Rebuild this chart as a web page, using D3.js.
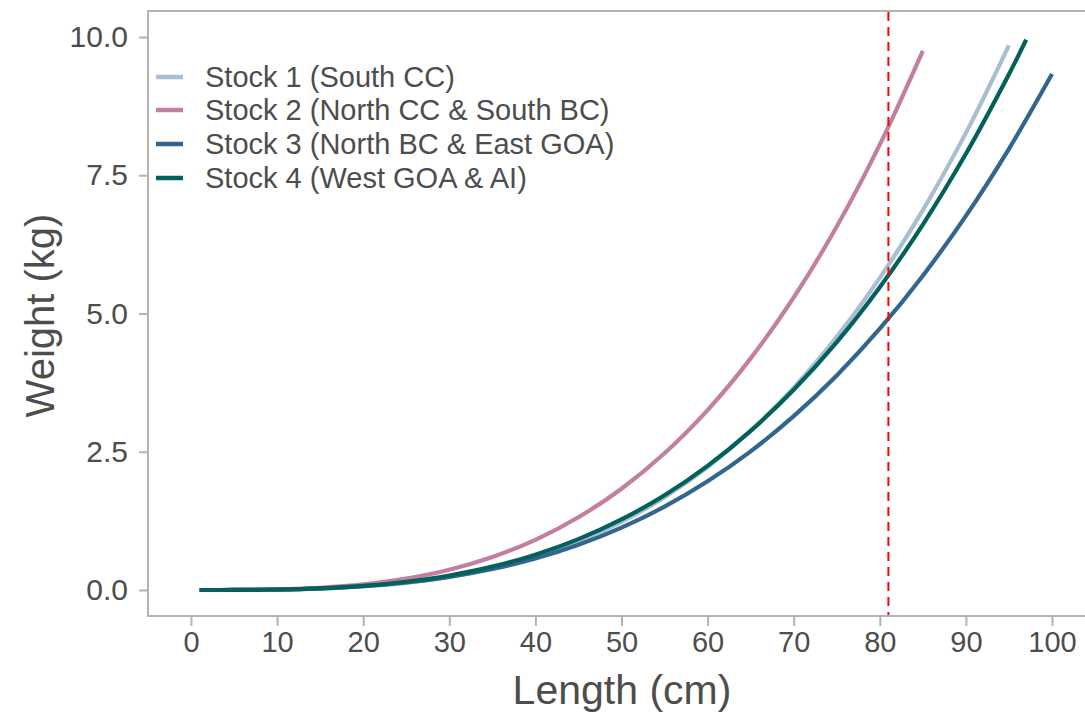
<!DOCTYPE html>
<html>
<head>
<meta charset="utf-8">
<script src="https://cdn.jsdelivr.net/npm/d3@7"></script>
<style>
  html, body { margin: 0; padding: 0; background: #ffffff; }
  svg { display: block; font-family: "Liberation Sans", Arial, sans-serif; }
</style>
</head>
<body>
<svg id="chart" width="1085" height="721"></svg>
<script>
// Length-weight curves for four stocks (length in cm, weight in kg)
const stockNames = [
  "Stock 1 (South CC)",
  "Stock 2 (North CC & South BC)",
  "Stock 3 (North BC & East GOA)",
  "Stock 4 (West GOA & AI)"
];
const stockColors = ["#a9bed2", "#c27f9f", "#33668f", "#04605a"];

const len1 = [1, 5, 10, 15, 20, 25, 30, 35, 40, 45, 50, 55, 60, 65, 70, 75, 80, 85, 90, 95];
const wt1  = [0, 0.001, 0.007, 0.025, 0.063, 0.130, 0.235, 0.388, 0.597, 0.875, 1.231, 1.677, 2.222, 2.880, 3.661, 4.579, 5.644, 6.870, 8.266, 9.85];

const len2 = [1, 5, 10, 15, 20, 25, 30, 35, 40, 45, 50, 55, 60, 65, 70, 75, 80, 85];
const wt2  = [0, 0.001, 0.012, 0.041, 0.102, 0.206, 0.366, 0.596, 0.907, 1.315, 1.832, 2.473, 3.253, 4.188, 5.289, 6.573, 8.053, 9.75];

const len3 = [1, 5, 10, 15, 20, 25, 30, 35, 40, 45, 50, 55, 60, 65, 70, 75, 80, 85, 90, 95, 100];
const wt3  = [0, 0.001, 0.008, 0.029, 0.069, 0.136, 0.237, 0.380, 0.570, 0.817, 1.127, 1.507, 1.965, 2.507, 3.143, 3.880, 4.725, 5.684, 6.765, 7.978, 9.33];

const len4 = [1, 5, 10, 15, 20, 25, 30, 35, 40, 45, 50, 55, 60, 65, 70, 75, 80, 85, 90, 95, 97];
const wt4  = [0, 0.001, 0.009, 0.031, 0.075, 0.149, 0.262, 0.422, 0.639, 0.920, 1.276, 1.713, 2.245, 2.877, 3.620, 4.483, 5.476, 6.609, 7.888, 9.328, 9.95];

const xTicks = [0, 10, 20, 30, 40, 50, 60, 70, 80, 90, 100];
const yTicks = [0, 2.5, 5, 7.5, 10];
const refLength = 81;

const series = [
  { name: stockNames[0], color: stockColors[0], len: len1, wt: wt1 },
  { name: stockNames[1], color: stockColors[1], len: len2, wt: wt2 },
  { name: stockNames[2], color: stockColors[2], len: len3, wt: wt3 },
  { name: stockNames[3], color: stockColors[3], len: len4, wt: wt4 }
];

const svg = d3.select("#chart");
const panel = { left: 148, top: 11, bottom: 616, right: 1090 };
const textColor = "#4d4d4d";
const frameColor = "#b3b3b3";

const x = d3.scaleLinear().domain([0, 100]).range([191, 1052]);
const y = d3.scaleLinear().domain([0, 10]).range([590, 37]);

// panel frame (left, top, bottom edges)
svg.append("path")
  .attr("d", `M${panel.right},${panel.top}H${panel.left}V${panel.bottom}H${panel.right}`)
  .attr("fill", "none")
  .attr("stroke", frameColor)
  .attr("stroke-width", 2);

// y axis
const yAxis = svg.append("g")
  .attr("transform", `translate(${panel.left - 1},0)`)
  .call(d3.axisLeft(y).tickValues(yTicks).tickFormat(d3.format(".1f")).tickSize(8).tickPadding(11));
yAxis.select(".domain").remove();
yAxis.selectAll(".tick line").attr("stroke", frameColor).attr("stroke-width", 2);
yAxis.selectAll(".tick text")
  .attr("fill", textColor)
  .style("font-size", "30px")
  .style("font-family", "'Liberation Sans', Arial, sans-serif");

// x axis
const xAxis = svg.append("g")
  .attr("transform", `translate(0,${panel.bottom + 1})`)
  .call(d3.axisBottom(x).tickValues(xTicks).tickFormat(d3.format("d")).tickSize(9).tickPadding(5));
xAxis.select(".domain").remove();
xAxis.selectAll(".tick line").attr("stroke", frameColor).attr("stroke-width", 2);
xAxis.selectAll(".tick text")
  .attr("fill", textColor)
  .style("font-size", "29px")
  .style("font-family", "'Liberation Sans', Arial, sans-serif");

// axis titles
svg.append("text")
  .attr("x", 622).attr("y", 704)
  .attr("text-anchor", "middle")
  .attr("fill", textColor)
  .style("font-size", "41px")
  .text("Length (cm)");

svg.append("text")
  .attr("transform", `translate(54,${(panel.top + panel.bottom) / 2 + 2}) rotate(-90)`)
  .attr("text-anchor", "middle")
  .attr("fill", textColor)
  .style("font-size", "40px")
  .text("Weight (kg)");

// curves
const line = d3.line()
  .x(d => x(d[0]))
  .y(d => y(d[1]))
  .curve(d3.curveCatmullRom.alpha(0.5));

svg.append("g").selectAll("path")
  .data(series)
  .join("path")
  .attr("d", s => line(s.len.map((l, i) => [l, s.wt[i]])))
  .attr("fill", "none")
  .attr("stroke", s => s.color)
  .attr("stroke-width", 4.2)
  .attr("stroke-linecap", "butt");

// reference length
svg.append("line")
  .attr("x1", x(refLength)).attr("x2", x(refLength))
  .attr("y1", panel.top + 1).attr("y2", panel.bottom - 1)
  .attr("stroke", "#ff0000")
  .attr("stroke-width", 2)
  .attr("stroke-dasharray", "9,6");

// legend
const legend = svg.append("g");
const legendY = [77, 110, 144, 178];
series.forEach((s, i) => {
  legend.append("line")
    .attr("x1", 156).attr("x2", 183)
    .attr("y1", legendY[i]).attr("y2", legendY[i])
    .attr("stroke", s.color)
    .attr("stroke-width", 4.5);
  legend.append("text")
    .attr("x", 205).attr("y", legendY[i])
    .attr("dy", "0.36em")
    .attr("fill", textColor)
    .style("font-size", "29px")
    .text(s.name);
});
</script>
</body>
</html>
